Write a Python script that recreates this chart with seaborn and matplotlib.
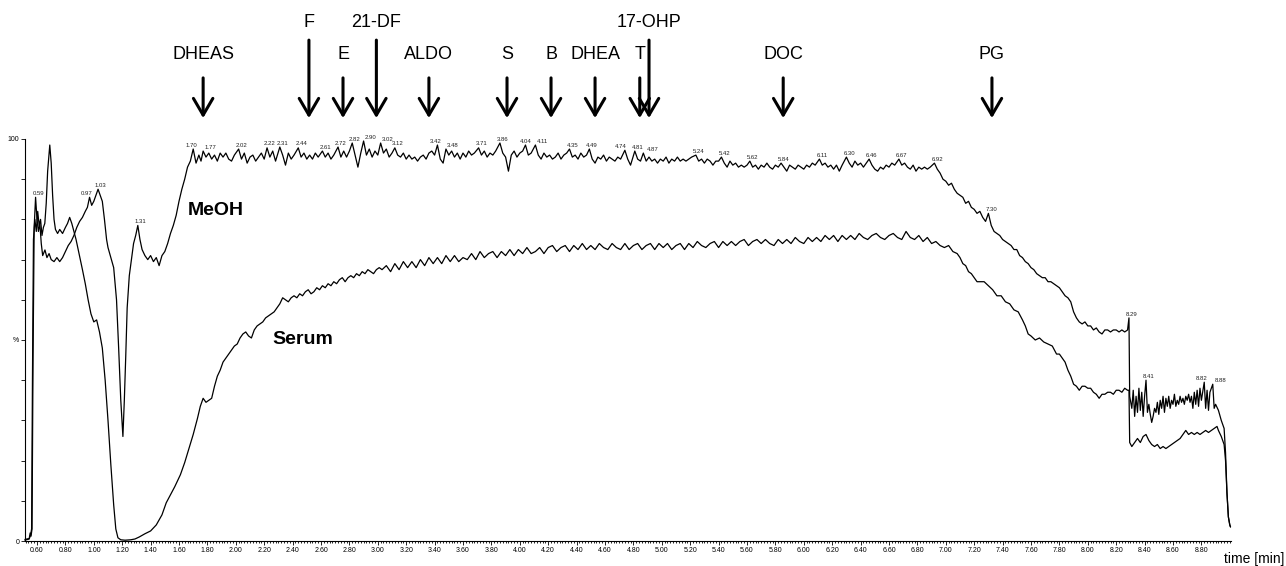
import numpy as np
import matplotlib
matplotlib.use("Agg")
import matplotlib.pyplot as plt
from matplotlib.ticker import MultipleLocator, FixedLocator, FixedFormatter, FormatStrFormatter
import seaborn as sns

# ---------------------------------------------------------------- data
# Total ion current traces (relative intensity, %) versus retention time (min)
meoh_time = [
    0.515, 0.545, 0.552, 0.558, 0.565, 0.572, 0.580, 0.590, 0.600, 0.610,
    0.620, 0.630, 0.640, 0.656, 0.670, 0.685, 0.700, 0.720, 0.740, 0.760,
    0.780, 0.800, 0.820, 0.840, 0.860, 0.880, 0.900, 0.920, 0.940, 0.955,
    0.970, 0.985, 1.000, 1.015, 1.030, 1.045, 1.060, 1.075, 1.090, 1.100,
    1.120, 1.140, 1.160, 1.175, 1.190, 1.205, 1.215, 1.225, 1.235, 1.250,
    1.265, 1.280, 1.295, 1.310, 1.325, 1.340, 1.360, 1.380, 1.400, 1.420,
    1.440, 1.460, 1.480, 1.500, 1.520, 1.540, 1.560, 1.580, 1.600, 1.620,
    1.640, 1.660, 1.680, 1.700, 1.720, 1.740, 1.755, 1.770, 1.790, 1.810,
    1.83, 1.85, 1.87, 1.89, 1.91, 1.93, 1.95, 1.97, 1.99, 2.02,
    2.04, 2.06, 2.08, 2.10, 2.12, 2.14, 2.16, 2.18, 2.20, 2.22,
    2.24, 2.26, 2.28, 2.31, 2.33, 2.35, 2.37, 2.39, 2.41, 2.44,
    2.46, 2.48, 2.50, 2.52, 2.54, 2.56, 2.58, 2.61, 2.63, 2.65,
    2.67, 2.69, 2.72, 2.74, 2.76, 2.78, 2.80, 2.82, 2.84, 2.86,
    2.88, 2.90, 2.92, 2.94, 2.96, 2.98, 3.00, 3.02, 3.04, 3.06,
    3.08, 3.10, 3.12, 3.14, 3.16, 3.18, 3.20, 3.22, 3.24, 3.26,
    3.28, 3.30, 3.32, 3.34, 3.36, 3.38, 3.40, 3.42, 3.44, 3.46,
    3.48, 3.50, 3.52, 3.54, 3.56, 3.58, 3.60, 3.62, 3.64, 3.66,
    3.68, 3.71, 3.73, 3.75, 3.77, 3.79, 3.81, 3.83, 3.86, 3.88,
    3.90, 3.92, 3.94, 3.96, 3.98, 4.00, 4.02, 4.04, 4.06, 4.08,
    4.11, 4.13, 4.15, 4.17, 4.19, 4.21, 4.23, 4.25, 4.27, 4.29,
    4.31, 4.33, 4.35, 4.37, 4.39, 4.41, 4.43, 4.45, 4.47, 4.49,
    4.51, 4.53, 4.55, 4.57, 4.59, 4.61, 4.63, 4.65, 4.67, 4.69,
    4.71, 4.74, 4.76, 4.78, 4.81, 4.83, 4.85, 4.87, 4.89, 4.91,
    4.93, 4.95, 4.97, 4.99, 5.01, 5.03, 5.05, 5.07, 5.09, 5.11,
    5.13, 5.15, 5.17, 5.19, 5.21, 5.24, 5.26, 5.28, 5.30, 5.32,
    5.34, 5.36, 5.38, 5.40, 5.42, 5.44, 5.46, 5.48, 5.50, 5.52,
    5.54, 5.56, 5.58, 5.60, 5.62, 5.64, 5.66, 5.68, 5.70, 5.72,
    5.74, 5.76, 5.78, 5.80, 5.82, 5.84, 5.86, 5.88, 5.90, 5.92,
    5.94, 5.96, 5.98, 6.00, 6.02, 6.04, 6.06, 6.08, 6.11, 6.13,
    6.15, 6.17, 6.19, 6.21, 6.23, 6.25, 6.27, 6.30, 6.32, 6.34,
    6.36, 6.38, 6.40, 6.42, 6.44, 6.46, 6.48, 6.50, 6.52, 6.54,
    6.56, 6.58, 6.60, 6.62, 6.64, 6.67, 6.69, 6.71, 6.73, 6.75,
    6.77, 6.79, 6.81, 6.83, 6.85, 6.87, 6.89, 6.92, 6.94, 6.96,
    6.98, 7.00, 7.02, 7.04, 7.06, 7.08, 7.10, 7.12, 7.14, 7.16,
    7.18, 7.20, 7.22, 7.24, 7.26, 7.28, 7.30, 7.32, 7.34, 7.36,
    7.38, 7.40, 7.42, 7.44, 7.46, 7.48, 7.50, 7.52, 7.54, 7.56,
    7.58, 7.60, 7.62, 7.64, 7.66, 7.68, 7.70, 7.72, 7.74, 7.76,
    7.78, 7.80, 7.82, 7.84, 7.86, 7.88, 7.90, 7.92, 7.94, 7.96,
    7.98, 8.00, 8.02, 8.04, 8.06, 8.08, 8.10, 8.12, 8.14, 8.16,
    8.18, 8.20, 8.22, 8.24, 8.26, 8.28, 8.29, 8.295, 8.31, 8.32,
    8.33, 8.34, 8.35, 8.36, 8.37, 8.38, 8.39, 8.40, 8.41, 8.42,
    8.43, 8.44, 8.45, 8.46, 8.47, 8.48, 8.49, 8.50, 8.51, 8.52,
    8.53, 8.54, 8.55, 8.56, 8.57, 8.58, 8.59, 8.60, 8.61, 8.62,
    8.63, 8.64, 8.65, 8.66, 8.67, 8.68, 8.69, 8.70, 8.71, 8.72,
    8.73, 8.74, 8.75, 8.76, 8.77, 8.78, 8.79, 8.80, 8.82, 8.83,
    8.84, 8.85, 8.86, 8.88, 8.89, 8.90, 8.92, 8.94, 8.96, 8.97,
    8.98, 8.99, 9.00, 9.005,
]
meoh_signal = [
    0.4, 0.6, 2.0, 1.2, 3.0, 45, 78, 85.5, 80, 77,
    79, 74, 71, 72.4, 70.5, 71.5, 70, 69.5, 70.5, 69.5,
    70.5, 72, 73.5, 74.5, 76, 78, 79.5, 80.5, 82, 83,
    85.5, 83.5, 84.5, 86, 87.5, 86, 84.5, 80, 75, 73,
    70.5, 68, 60, 48, 35, 26, 35, 46, 58, 66,
    70, 74, 76, 78.5, 75, 72.5, 71, 70, 71, 69.5,
    70.5, 68.5, 71, 72, 74, 76.5, 78.5, 81, 84.5, 87.5,
    90, 93, 94.5, 97.5, 94, 96, 94.5, 97, 95.5, 96.5,
    95, 96, 94.5, 96.5, 95.5, 96.5, 95, 94.5, 96, 97.5,
    95, 96.5, 94, 95.5, 96, 94.5, 95.5, 96.5, 95, 97.8,
    95.5, 97, 94.5, 98, 96, 93.5, 96.5, 95, 96, 97.8,
    95.5, 96.5, 95, 96, 95, 96.5, 95.5, 97, 95.5, 96.5,
    95, 96, 98, 95.5, 97, 95.5, 97, 99, 96, 93,
    96.5, 99.5, 96, 97.5, 95.5, 97, 96, 99, 96.5, 97.5,
    95.5, 96.5, 97.8, 96, 95.5, 96.5, 95, 96, 95, 95.5,
    94.5, 95.5, 96, 95, 96.5, 97, 96, 98.5, 95, 94,
    97.5, 96, 97, 95.5, 96.5, 95, 96.5, 95.5, 97, 96,
    96.5, 97.8, 96, 97, 95.5, 96.5, 96, 97, 99, 96.5,
    95.5, 92, 96, 97, 95.5, 96.5, 97, 98.5, 96, 96.5,
    98.5, 96, 95, 96.5, 95.5, 96, 95, 95.5, 96.5, 95,
    96, 96.5, 97.5, 95.5, 96, 95, 96.5, 95.5, 96, 97.5,
    95, 94, 95.5, 95, 96, 94.5, 95.5, 95, 94.5, 95.5,
    95, 97.2, 95, 93.5, 97, 95, 94.5, 96.5, 94.5, 95.5,
    94.5, 95, 94, 95, 94.5, 95.5, 94, 95, 94.5, 95.5,
    94.5, 95, 94.5, 95, 95.5, 96, 94.5, 95, 94, 95,
    94.5, 93.5, 94.5, 94.5, 95.5, 94, 93, 94.5, 93.5, 94,
    93, 93.5, 93, 93.5, 94.5, 93, 93.5, 92.5, 93.5, 93,
    94, 93, 92.5, 93.5, 93, 94, 93, 92, 93.5, 93,
    92.5, 93.5, 93, 92.5, 93.5, 93, 94, 93.5, 95, 93.5,
    94, 93, 93.5, 92.5, 93.5, 92, 93.5, 95.5, 94, 93,
    94.5, 93.5, 94, 93, 94, 95, 93.5, 92.5, 92, 93,
    92.5, 93.5, 93, 94, 93.5, 95, 93.5, 94, 93, 92.5,
    93.5, 92, 93, 92.5, 93, 92.5, 93, 94, 92.5, 91.5,
    90, 89.5, 88.5, 89, 87.5, 86.5, 86, 85.5, 84, 84.5,
    83, 82.5, 81.5, 82, 80.5, 79.5, 81.5, 78.5, 77, 76.5,
    76, 75, 74.5, 74, 73.5, 72.5, 72.5, 71, 70.5, 69.5,
    69, 68, 67.5, 66.5, 66, 65.5, 65.5, 64.5, 64.5, 64,
    63.5, 63, 62, 61, 60.5, 59.5, 57, 55.5, 54.5, 54,
    54.5, 53.5, 53.5, 52.5, 53, 52, 51.5, 52.5, 52.5, 52,
    52.5, 52.5, 52, 52.5, 52, 52.5, 55.5, 36, 33, 37.5,
    31, 36, 32, 38, 32.5, 37, 31, 36, 40, 32,
    34, 31.5, 29.5, 31, 33, 32, 34.5, 31.5, 35, 33,
    36, 32, 35.5, 33.5, 36, 33, 35, 34, 36.5, 33.5,
    35, 34, 36, 34.5, 35.5, 34, 36, 35, 36.5, 34.5,
    36, 33, 37, 34, 37.5, 33.5, 38, 35, 39.5, 33,
    37.5, 32.5, 37, 39, 33, 34, 32.5, 30, 28, 22,
    12, 6, 4, 3.5,
]

serum_time = [
    0.515, 0.545, 0.555, 0.562, 0.568, 0.575, 0.585, 0.595, 0.605, 0.615,
    0.625, 0.635, 0.645, 0.655, 0.665, 0.675, 0.690, 0.700, 0.710, 0.720,
    0.730, 0.745, 0.760, 0.780, 0.800, 0.815, 0.830, 0.845, 0.860, 0.875,
    0.890, 0.905, 0.920, 0.940, 0.960, 0.980, 1.000, 1.020, 1.040, 1.060,
    1.080, 1.100, 1.120, 1.140, 1.155, 1.170, 1.190, 1.220, 1.260, 1.290,
    1.320, 1.360, 1.400, 1.440, 1.480, 1.510, 1.540, 1.570, 1.610, 1.640,
    1.670, 1.700, 1.730, 1.750, 1.770, 1.790, 1.810, 1.830, 1.850, 1.870,
    1.890, 1.910, 1.930, 1.950, 1.970, 1.990, 2.010, 2.030, 2.050, 2.070,
    2.090, 2.110, 2.130, 2.150, 2.170, 2.190, 2.210, 2.230, 2.250, 2.270,
    2.290, 2.310, 2.330, 2.350, 2.370, 2.390, 2.410, 2.430, 2.450, 2.470,
    2.490, 2.510, 2.530, 2.550, 2.570, 2.590, 2.610, 2.630, 2.650, 2.670,
    2.690, 2.710, 2.730, 2.750, 2.770, 2.790, 2.810, 2.830, 2.850, 2.870,
    2.890, 2.910, 2.930, 2.950, 2.970, 2.990, 3.010, 3.030, 3.06, 3.09,
    3.12, 3.15, 3.18, 3.21, 3.24, 3.27, 3.30, 3.33, 3.36, 3.39,
    3.42, 3.45, 3.48, 3.51, 3.54, 3.57, 3.60, 3.63, 3.66, 3.69,
    3.72, 3.75, 3.78, 3.81, 3.84, 3.87, 3.90, 3.93, 3.96, 3.99,
    4.02, 4.05, 4.08, 4.11, 4.14, 4.17, 4.20, 4.23, 4.26, 4.29,
    4.32, 4.35, 4.38, 4.41, 4.44, 4.47, 4.50, 4.53, 4.56, 4.59,
    4.62, 4.65, 4.68, 4.71, 4.74, 4.77, 4.80, 4.83, 4.86, 4.89,
    4.92, 4.95, 4.98, 5.01, 5.04, 5.07, 5.10, 5.13, 5.16, 5.19,
    5.22, 5.25, 5.28, 5.31, 5.34, 5.37, 5.40, 5.43, 5.46, 5.49,
    5.52, 5.55, 5.58, 5.61, 5.64, 5.67, 5.70, 5.73, 5.76, 5.79,
    5.82, 5.85, 5.88, 5.91, 5.94, 5.97, 6.00, 6.03, 6.06, 6.09,
    6.12, 6.15, 6.18, 6.21, 6.24, 6.27, 6.30, 6.33, 6.36, 6.39,
    6.42, 6.45, 6.48, 6.51, 6.54, 6.57, 6.60, 6.63, 6.66, 6.69,
    6.72, 6.75, 6.78, 6.81, 6.84, 6.87, 6.90, 6.93, 6.96, 6.99,
    7.02, 7.05, 7.08, 7.10, 7.12, 7.14, 7.16, 7.18, 7.20, 7.22,
    7.24, 7.27, 7.30, 7.33, 7.36, 7.39, 7.42, 7.45, 7.48, 7.51,
    7.54, 7.56, 7.58, 7.60, 7.63, 7.66, 7.69, 7.72, 7.75, 7.78,
    7.80, 7.82, 7.84, 7.86, 7.88, 7.90, 7.92, 7.94, 7.96, 7.98,
    8.00, 8.02, 8.04, 8.06, 8.08, 8.10, 8.12, 8.14, 8.16, 8.18,
    8.20, 8.22, 8.24, 8.26, 8.28, 8.29, 8.295, 8.31, 8.33, 8.35,
    8.37, 8.39, 8.41, 8.43, 8.45, 8.47, 8.49, 8.51, 8.53, 8.55,
    8.57, 8.59, 8.61, 8.63, 8.65, 8.67, 8.69, 8.71, 8.73, 8.75,
    8.77, 8.79, 8.81, 8.83, 8.85, 8.87, 8.89, 8.91, 8.92, 8.94,
    8.96, 8.97, 8.98, 8.99, 9.00, 9.005,
]
serum_signal = [
    0.2, 0.5, 1.5, 3, 40, 75, 80, 77, 82, 78.5,
    80, 76, 78, 79, 84, 92, 98.5, 94, 86, 80,
    77.5, 76.5, 77.5, 76.5, 78, 79, 80.5, 79, 77, 75,
    72.5, 70, 67.5, 64, 60, 56.5, 54.5, 55, 52, 48,
    40, 30, 19, 9, 3, 0.8, 0.3, 0.2, 0.3, 0.5,
    1, 1.8, 2.5, 4, 6.5, 9.5, 11.5, 13.5, 16.5, 19.5,
    23, 26.5, 30.5, 33.5, 35.5, 34.5, 35, 35.5, 38.5, 41,
    42.5, 44.5, 45.5, 46.5, 47.5, 48.5, 49, 50.5, 51.5, 52,
    51, 50.5, 52.5, 53.5, 54, 54.5, 55.5, 56, 56.5, 57,
    58, 59, 60.5, 60, 59.5, 60.5, 61, 60.5, 61.5, 61,
    62, 62.5, 61.5, 62, 63, 62.5, 63.5, 63, 64, 63.5,
    64.5, 64, 65, 65.5, 64.5, 65.5, 66, 65.5, 66.5, 66,
    67, 66.5, 67.5, 67, 66.5, 67.5, 68, 67.5, 68.5, 67,
    69, 67.5, 69.5, 68, 69.5, 68, 70, 68.5, 70.5, 69,
    70.5, 69, 71, 69.5, 71, 69.5, 70.5, 70, 71.5, 70,
    72, 70.5, 71.5, 72, 70.5, 72, 71, 72.5, 71, 72.5,
    71.5, 73, 71.5, 72, 73, 71.5, 73, 73.5, 72, 73,
    73.5, 72, 73.5, 72.5, 74, 72.5, 73.5, 72.5, 74, 73,
    72.5, 74, 73, 72.5, 74, 72.5, 73.5, 74, 72.5, 73.5,
    74, 72.5, 74, 73, 74, 72.5, 73.5, 74, 72.5, 74,
    73, 74.5, 73.5, 73, 74, 74.5, 73, 74.5, 73.5, 74.5,
    73.5, 74.5, 75, 73.5, 74.5, 75, 74, 75, 74, 73.5,
    75, 74, 75, 74, 75.5, 74.5, 74, 75.5, 74.5, 75.5,
    74.5, 76, 75, 76, 74.5, 76, 75, 76, 75, 76.5,
    75.5, 75, 76, 76.5, 75.5, 75, 76, 76.5, 75.5, 75,
    77, 75.5, 75, 76, 74.5, 75.5, 74, 74.5, 73.5, 73,
    73.5, 72, 71.5, 70.5, 69, 68.5, 67, 66.5, 65.5, 64.5,
    64.5, 64.5, 63.5, 62.5, 61, 61, 59.5, 59, 57.5, 57,
    55, 53.5, 51.5, 51, 50, 50.5, 49.5, 49, 48.5, 46.5,
    46.5, 45.5, 44.5, 42.5, 41, 39, 38.5, 37.5, 38.5, 38.5,
    38, 38, 37, 36.5, 35.5, 36.5, 36.5, 37, 37, 36.5,
    37.5, 37.5, 37, 38, 37.5, 37.5, 24.5, 23.5, 24.5, 25.5,
    24.5, 26, 26.5, 25, 24, 23.5, 24, 23, 23.5, 23,
    23.5, 24, 24.5, 25, 25.5, 26.5, 27.5, 26.5, 27, 26.5,
    27, 26.5, 27, 27.5, 27, 27.5, 28, 28.5, 27.5, 26,
    24, 20, 12, 6, 4, 3.5,
]

# retention times annotated on the MeOH trace
peak_rt = [0.59, 0.97, 1.03, 1.31, 1.70, 1.77, 2.02, 2.22, 2.31, 2.44,
           2.61, 2.72, 2.82, 2.90, 3.02, 3.12, 3.42, 3.48, 3.71, 3.86,
           4.04, 4.11, 4.35, 4.49, 4.74, 4.81, 4.87, 5.24, 5.42, 5.62,
           5.84, 6.11, 6.30, 6.46, 6.67, 6.92, 7.30, 8.29, 8.41, 8.82, 8.88]

# expected elution times of the steroids
compounds = ["DHEAS", "F", "E", "21-DF", "ALDO", "S", "B", "DHEA", "T",
             "17-OHP", "DOC", "PG"]
compound_rt = [1.77, 2.515, 2.755, 2.99, 3.36, 3.91, 4.22, 4.53, 4.845,
               4.91, 5.855, 7.325]
upper_row = {"F", "21-DF", "17-OHP"}

# sideways nudges (points) so neighbouring retention-time labels stay apart
label_nudge = {0.97: -4, 1.70: -3, 1.77: 3, 2.90: 3, 3.02: 3, 3.42: -3,
               3.48: 3, 4.04: -2, 4.11: 3, 4.74: -5, 4.87: 5, 8.82: -4,
               8.88: 4}

# ---------------------------------------------------------------- figure
sns.set_style("white")
plt.rcParams["font.family"] = ["Liberation Sans", "DejaVu Sans"]

W, H = 1286, 566
fig = plt.figure(figsize=(W / 100, H / 100), dpi=100)
ax = fig.add_axes([25 / W, 25 / H, 1206 / W, 402 / H])

sns.lineplot(x=meoh_time, y=meoh_signal, ax=ax, color="black", lw=0.9,
             estimator=None, sort=False)
sns.lineplot(x=serum_time, y=serum_signal, ax=ax, color="black", lw=0.9,
             estimator=None, sort=False)
for ln in ax.lines:
    ln.set_clip_on(False)

ax.set_xlim(0.5155, 9.0085)
ax.set_ylim(0, 100)
sns.despine(ax=ax)
for side in ("left", "bottom"):
    ax.spines[side].set_color("black")
    ax.spines[side].set_linewidth(0.8)

# x axis: labelled every 0.2 min up to 8.80, dotted minor ticks every 0.02 min
ax.xaxis.set_major_locator(FixedLocator(np.round(np.arange(0.6, 8.81, 0.2), 2)))
ax.xaxis.set_major_formatter(FormatStrFormatter("%.2f"))
ax.xaxis.set_minor_locator(MultipleLocator(0.02))
ax.tick_params(axis="x", which="major", direction="out", length=3, width=0.6,
               labelsize=5, pad=1, colors="black", bottom=True)
ax.tick_params(axis="x", which="minor", direction="out", length=1.5, width=0.6,
               bottom=True, colors="black")

# y axis: ticks every 10 %, labels only at 0, the unit and 100
ax.yaxis.set_major_locator(FixedLocator([0, 50, 100]))
ax.yaxis.set_major_formatter(FixedFormatter(["0", "%", "100"]))
ax.yaxis.set_minor_locator(MultipleLocator(10))
ax.tick_params(axis="y", which="both", direction="out", length=3, width=0.6,
               labelsize=5, pad=1, colors="black", left=True)
ax.set_xlabel("")
ax.set_ylabel("")

# retention-time labels above the MeOH peaks
for rt in peak_rt:
    level = float(np.interp(rt, meoh_time, meoh_signal))
    dx = 2 + label_nudge.get(rt, 0)
    ax.annotate(f"{rt:.2f}", xy=(rt, level), xytext=(dx, 1),
                textcoords="offset points", ha="center", va="bottom",
                fontsize=4.3, color="#222222", annotation_clip=False)

# compound markers
for name, rt in zip(compounds, compound_rt):
    top = 124.6 if name in upper_row else 115.2
    text_y = 129.1 if name in upper_row else 120.9
    ax.annotate("", xy=(rt, 105.2), xytext=(rt, top),
                arrowprops=dict(arrowstyle="->,head_length=0.6,head_width=0.35",
                                lw=2.2, color="black", shrinkA=0, shrinkB=0,
                                mutation_scale=20),
                annotation_clip=False)
    ax.text(rt, text_y, name, ha="center", va="center", fontsize=13,
            color="black", clip_on=False)

ax.text(1.66, 82.3, "MeOH", ha="left", va="center", fontsize=14,
        fontweight="bold", color="black")
ax.text(2.255, 50.0, "Serum", ha="left", va="center", fontsize=14,
        fontweight="bold", color="black")

fig.text(1284 / W, 1 - 559 / H, "time [min]", ha="right", va="center",
         fontsize=10, color="black")

fig.savefig("out.png", dpi=100, facecolor="white")
